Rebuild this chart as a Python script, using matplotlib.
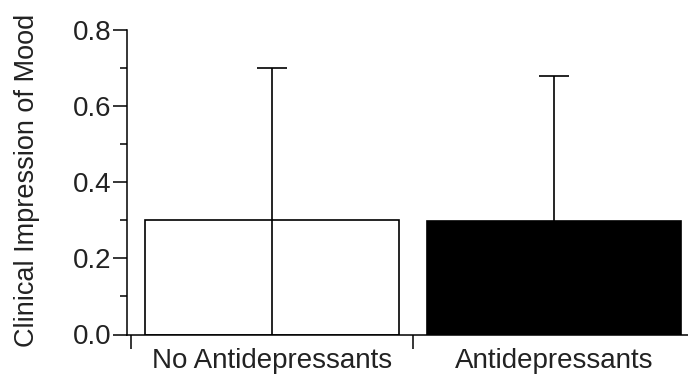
import matplotlib
matplotlib.use("Agg")
import matplotlib.pyplot as plt

# values
groups = ["No Antidepressants", "Antidepressants"]
means = [0.30, 0.297]
sds = [0.40, 0.383]
bar_colors = ["white", "black"]

plt.rcParams['font.family'] = ['Liberation Sans', 'DejaVu Sans']

fig = plt.figure(figsize=(6.88, 3.81), dpi=100)
ax = fig.add_axes([126.7 / 688, 46.5 / 381, 561.3 / 688, 304.5 / 381])

pos = [0.5, 1.5]
ax.bar(pos, means, width=0.9, color=bar_colors, edgecolor="black",
       linewidth=1.2, zorder=2)
ax.errorbar(pos, means, yerr=sds, fmt="none", ecolor="black",
            elinewidth=1.2, capsize=11, capthick=1.2, zorder=3)

ax.set_xlim(-0.0142, 1.976)
ax.set_ylim(0, 0.8)

for s in ["top", "right"]:
    ax.spines[s].set_visible(False)
for s in ["left", "bottom"]:
    ax.spines[s].set_linewidth(1.1)

ax.set_yticks([0.0, 0.2, 0.4, 0.6, 0.8])
ax.set_yticklabels(["0.0", "0.2", "0.4", "0.6", "0.8"])
ax.set_yticks([0.1, 0.3, 0.5, 0.7], minor=True)
ax.tick_params(axis="y", which="major", length=10, width=1.1, pad=1,
               labelsize=20, labelcolor="#222222")
ax.tick_params(axis="y", which="minor", length=5, width=1.1)

# group boundaries get the ticks, group names sit between them
ax.set_xticks([0, 1])
ax.set_xticklabels([])
ax.set_xticks(pos, minor=True)
ax.set_xticklabels(groups, minor=True)
ax.tick_params(axis="x", which="major", length=10, width=1.1)
ax.tick_params(axis="x", which="minor", length=0, pad=10,
               labelsize=20, labelcolor="#222222")

ax.set_ylabel("Clinical Impression of Mood", fontsize=19.5, color="#222222")
ax.yaxis.set_label_coords(-0.1545, 0.507)

fig.savefig("out.png", dpi=100)
